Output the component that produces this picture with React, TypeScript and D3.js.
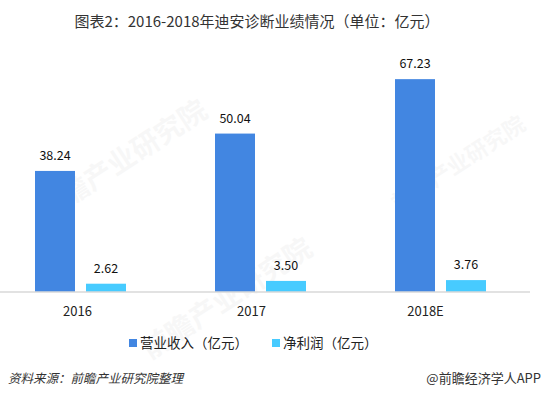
import React from "react";
import * as d3 from "d3";

const categories = ["2016", "2017", "2018E"];
const seriesNames = ["营业收入（亿元）", "净利润（亿元）"];
const revenue = [38.24, 50.04, 67.23];
const netProfit = [2.62, 3.5, 3.76];
const seriesColors = ["#4286E1", "#47CBFF"];

const width = 541;
const height = 397;
const baseline = 292;
const font = "'Microsoft YaHei', 'Noto Sans CJK SC', sans-serif";

const App = () => {
  const values = [revenue, netProfit];

  const x = d3.scaleBand().domain(categories).range([-10, 530]);
  // the category labels sit a bit left of the bar groups in the original
  const xLabel = d3.scaleBand().domain(categories).range([-9.5, 512.5]);
  const xSub = d3
    .scaleBand()
    .domain(seriesNames)
    .range([45, 136])
    .paddingInner(0.2157);

  const y = d3.scaleLinear().domain([0, 70]).range([baseline, baseline - 70 * 3.166]);

  const watermarks = [
    { x: 45, y: 222, size: 28 },
    { x: 150, y: 360, size: 28 },
    { x: 398, y: 212, size: 22 },
  ];

  return (
    <svg
      width={width}
      height={height}
      style={{ position: "absolute", left: 0, top: 0, background: "#fff" }}
      fontFamily={font}
    >
      <rect width={width} height={height} fill="#fff" />

      {watermarks.map((w, i) => (
        <text
          key={i}
          x={w.x}
          y={w.y}
          fontSize={w.size}
          fontWeight="bold"
          fill="#000"
          opacity={0.028}
          transform={`rotate(-33 ${w.x} ${w.y})`}
        >
          前瞻产业研究院
        </text>
      ))}

      <text x={257} y={27} textAnchor="middle" fontSize={15} fill="#333">
        图表2：2016-2018年迪安诊断业绩情况（单位：亿元）
      </text>

      {categories.map((c, i) => (
        <g key={c} transform={`translate(${x(c)},0)`}>
          {seriesNames.map((s, j) => {
            const v = values[j][i];
            const bx = xSub(s)!;
            return (
              <g key={s}>
                <rect
                  x={bx}
                  y={y(v)}
                  width={xSub.bandwidth()}
                  height={baseline - y(v)}
                  fill={seriesColors[j]}
                />
                <text
                  x={bx + xSub.bandwidth() / 2}
                  y={y(v) - 11}
                  textAnchor="middle"
                  fontSize={12.5}
                  fill="#111"
                >
                  {v.toFixed(2)}
                </text>
              </g>
            );
          })}
        </g>
      ))}

      <line x1={0} x2={530} y1={baseline} y2={baseline} stroke="#d9d9d9" strokeWidth={1.5} />

      {categories.map((c) => (
        <text
          key={c}
          x={xLabel(c)! + xLabel.bandwidth() / 2}
          y={316}
          textAnchor="middle"
          fontSize={13}
          fill="#222"
        >
          {c}
        </text>
      ))}

      {seriesNames.map((s, j) => {
        const lx = [129, 272][j];
        return (
          <g key={s}>
            <rect x={lx} y={339} width={8} height={8} fill={seriesColors[j]} />
            <text x={lx + 11} y={347.5} fontSize={13.5} fill="#222">
              {s}
            </text>
          </g>
        );
      })}

      <text x={8} y={383} fontSize={12.5} fill="#333" fontStyle="italic">
        资料来源：前瞻产业研究院整理
      </text>
      <text x={541} y={383} textAnchor="end" fontSize={13} fill="#333">
        @前瞻经济学人APP
      </text>
    </svg>
  );
};

export default App;
